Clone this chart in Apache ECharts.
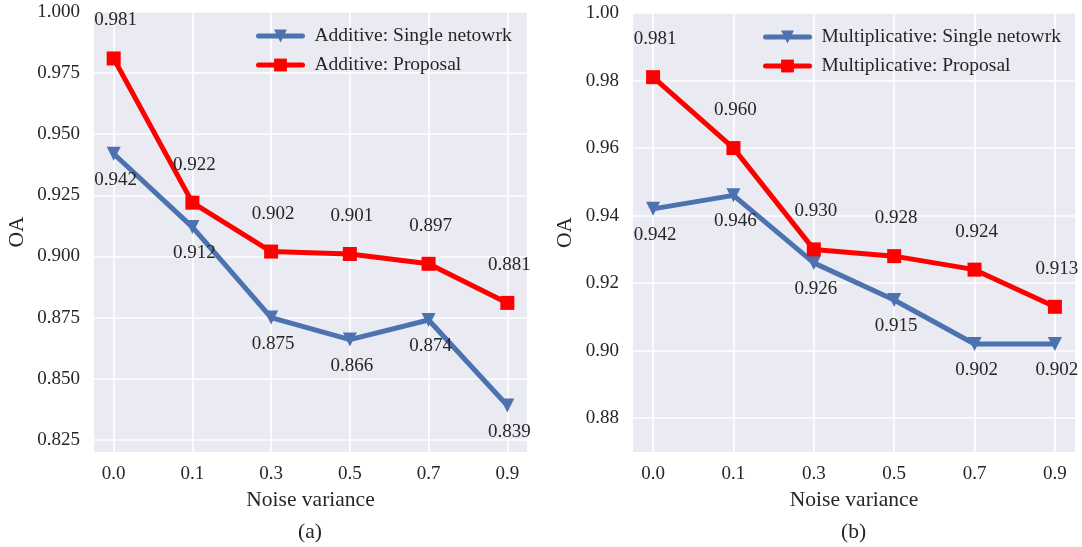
<!DOCTYPE html>
<html><head><meta charset="utf-8">
<script src="https://cdn.jsdelivr.net/npm/echarts@6/dist/echarts.min.js"></script>
<style>html,body{margin:0;padding:0;background:#fff}#c{width:1082px;height:547px}</style>
</head><body><div id="c"></div>
<script>
const categories = ['0.0','0.1','0.3','0.5','0.7','0.9'];
const addSingle = [0.942, 0.912, 0.875, 0.866, 0.874, 0.839];
const addProposal = [0.981, 0.922, 0.902, 0.901, 0.897, 0.881];
const mulSingle = [0.942, 0.946, 0.926, 0.915, 0.902, 0.902];
const mulProposal = [0.981, 0.960, 0.930, 0.928, 0.924, 0.913];
const leftTicks = [0.825, 0.85, 0.875, 0.9, 0.925, 0.95, 0.975, 1.0];
const rightTicks = [0.88, 0.90, 0.92, 0.94, 0.96, 0.98, 1.00];
const legendNames = ['Additive: Single netowrk','Additive: Proposal','Multiplicative: Single netowrk','Multiplicative: Proposal'];
const xTitle = 'Noise variance';
const yTitle = 'OA';
const panelTags = ['(a)','(b)'];

const FONT = 'Liberation Serif';
const TXT = '#262626';
const BLUE = '#4C72B0';
const RED = '#FF0000';
const idx = categories.map((c,i)=>i);

function xAxis(gi){
  return {
    type:'value', gridIndex:gi, min:-0.25, max:5.25,
    name:xTitle, nameLocation:'middle', nameGap:37,
    nameTextStyle:{fontFamily:FONT,fontSize:21.5,color:TXT},
    axisLine:{show:false},
    axisTick:{show:false, customValues:idx},
    axisLabel:{customValues:idx, formatter:v=>categories[Math.round(v)], fontFamily:FONT, fontSize:19, color:TXT, margin:13},
    splitLine:{show:true, lineStyle:{color:'#fff', width:1.6}}
  };
}
function yAxis(gi, min, max, ticks, dec, gap){
  return {
    type:'value', gridIndex:gi, min:min, max:max,
    name:yTitle, nameLocation:'middle', nameGap:gap,
    nameTextStyle:{fontFamily:FONT,fontSize:21.5,color:TXT},
    axisLine:{show:false},
    axisTick:{show:false, customValues:ticks},
    axisLabel:{customValues:ticks, formatter:v=>v.toFixed(dec), fontFamily:FONT, fontSize:19, color:TXT, margin:14},
    splitLine:{show:true, lineStyle:{color:'#fff', width:1.6}}
  };
}
function mk(name, data, gi, isRed){
  return {
    name:name, type:'line', xAxisIndex:gi, yAxisIndex:gi,
    data:data.map((v,i)=>[i,v]),
    symbol: isRed ? 'rect' : 'triangle',
    symbolRotate: isRed ? 0 : 180,
    symbolSize: isRed ? 14 : 14,
    showAllSymbol:true,
    lineStyle:{color: isRed?RED:BLUE, width:5},
    itemStyle:{color: isRed?RED:BLUE},
    z: isRed ? 3 : 2,
    label:{show:true, position:'inside', offset: isRed ? [2,-38] : [2,26],
      formatter:p=>p.value[1].toFixed(3), fontFamily:FONT, fontSize:19, color:TXT},
    emphasis:{disabled:true},
    animation:false
  };
}
const legendCommon = {
  orient:'vertical', itemWidth:44, itemHeight:16, itemGap:9, padding:0,
  lineStyle:{width:5, cap:'round'},
  textStyle:{fontFamily:FONT, fontSize:19.5, color:TXT, lineHeight:19, padding:[0,0,0,7]},
  backgroundColor:'transparent'
};
const chart = echarts.init(document.getElementById('c'));
chart.setOption({
  animation:false,
  backgroundColor:'#fff',
  grid:[
    {left:94, right:555, top:12, bottom:95, show:true, backgroundColor:'#EAEAF2', borderWidth:0, containLabel:false},
    {left:633, right:7, top:13, bottom:95, show:true, backgroundColor:'#EAEAF2', borderWidth:0, containLabel:false}
  ],
  xAxis:[xAxis(0), xAxis(1)],
  yAxis:[yAxis(0,0.82,1.0,leftTicks,3,66), yAxis(1,0.87,1.0,rightTicks,2,57)],
  legend:[
    Object.assign({left:256, top:26, data:[legendNames[0],legendNames[1]]}, legendCommon),
    Object.assign({left:763, top:27, data:[legendNames[2],legendNames[3]]}, legendCommon)
  ],
  series:[
    mk(legendNames[0], addSingle, 0, false),
    mk(legendNames[1], addProposal, 0, true),
    mk(legendNames[2], mulSingle, 1, false),
    mk(legendNames[3], mulProposal, 1, true)
  ],
  graphic:[
    {type:'text', left:298, top:521, style:{text:panelTags[0], font:'21.5px "Liberation Serif"', fill:TXT}},
    {type:'text', left:841, top:521, style:{text:panelTags[1], font:'21.5px "Liberation Serif"', fill:TXT}}
  ]
});
</script></body></html>
